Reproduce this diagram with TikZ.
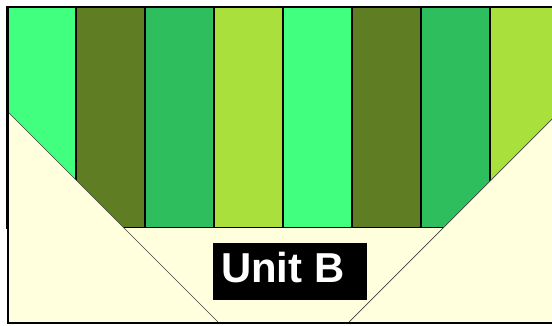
\documentclass[tikz,border=0pt]{standalone}
\usepackage{fontspec}
\setmainfont{Liberation Sans}
\definecolor{cA}{HTML}{41FF7F}
\definecolor{cB}{HTML}{5F7D22}
\definecolor{cC}{HTML}{2EBE5E}
\definecolor{cD}{HTML}{AAE03C}
\definecolor{cream}{HTML}{FFFFDE}
\tikzset{
  stripe/.style={draw=black, line width=1.1pt},
  diag/.style={draw=black!75, line width=0.7pt},
  frame/.style={draw=black, line width=1.3pt},
}
\begin{document}
\begin{tikzpicture}[x=1bp,y=-1bp]
\useasboundingbox (0,0) rectangle (552,325);
\begin{scope}
\clip (0,0) rectangle (552,325);
\foreach \i/\c in {0/cA,1/cB,2/cC,3/cD,4/cA,5/cB,6/cC,7/cD}{
  \path[stripe, fill=\c] (7+69*\i,7) rectangle (76+69*\i,228);
}
\fill[cream] (8,112) -- (124,228) -- (443,228) -- (553,118) -- (553,323) -- (8,323) -- cycle;
\draw[diag] (8,112) -- (219,323);
\draw[diag] (553,118) -- (348,323);
\draw[frame] (7,6.5) -- (553,6.5);
\draw[frame] (8,6) -- (8,323) -- (553,323);
\end{scope}
\node[fill=black, minimum width=154bp, minimum height=57bp, inner sep=0pt, anchor=north west] (labelbox) at (213,243) {};
\node[text=white, font=\fontsize{42}{42}\selectfont\bfseries, anchor=base west, inner sep=0pt] (label) at (221,282) {Unit B};
\end{tikzpicture}
\end{document}
